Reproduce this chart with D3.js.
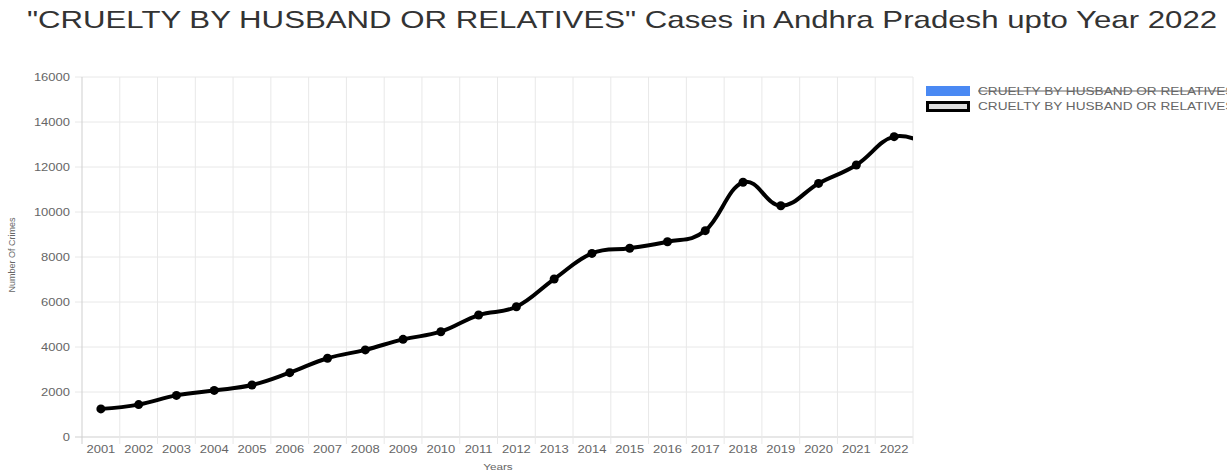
<!DOCTYPE html>
<html>
<head>
<meta charset="utf-8">
<script src="https://cdn.jsdelivr.net/npm/d3@7"></script>
<style>
  body { margin: 0; background: #fff; }
  svg { display: block; font-family: "Liberation Sans", Arial, sans-serif; }
</style>
</head>
<body>
<div id="chart"></div>
<script>
// Data
var years = ["2001", "2002", "2003", "2004", "2005", "2006", "2007", "2008", "2009", "2010", "2011",
             "2012", "2013", "2014", "2015", "2016", "2017", "2018", "2019", "2020", "2021", "2022"];
// last value has no label; it is cut off at the edge of the plot
var cases = [1250, 1440, 1850, 2070, 2310, 2860, 3500, 3870, 4340, 4680, 5420,
             5790, 7020, 8160, 8390, 8680, 9170, 11320, 10280, 11270, 12090, 13350, 12900];
var yTicks = [0, 2000, 4000, 6000, 8000, 10000, 12000, 14000, 16000];
var seriesName = "CRUELTY BY HUSBAND OR RELATIVES";

var width = 1227, height = 474;
var margin = {top: 77, right: 314, bottom: 37, left: 82};
var plotW = width - margin.left - margin.right;
var plotH = height - margin.top - margin.bottom;
var stretch = 1.3; // the text in the picture is drawn wide

var svg = d3.select("#chart").append("svg")
    .attr("width", width)
    .attr("height", height);

// put a text at (x, y), stretched sideways
AddText = function(parent, x, y, str, size, anchor) {
    return parent.append("g")
        .attr("transform", "translate(" + x + "," + y + ") scale(" + stretch + ",1)")
        .append("text")
        .attr("text-anchor", anchor)
        .attr("font-size", size)
        .attr("fill", "#666")
        .text(str);
}

// title
AddText(svg, 622, 28, '"CRUELTY BY HUSBAND OR RELATIVES" Cases in Andhra Pradesh upto Year 2022', 24, "middle")
    .attr("fill", "#333");

var g = svg.append("g").attr("transform", "translate(" + margin.left + "," + margin.top + ")");

// band-style x scale (points sit in the middle of each band)
var x = d3.scaleBand().domain(years).range([0, plotW]);
var step = x.step();
var xPos = function(i) { return i * step + step / 2; };

var y = d3.scaleLinear().domain([0, 16000]).range([plotH, 0]);

// grid lines
g.append("g").selectAll("line.hgrid")
    .data(yTicks)
    .enter().append("line")
    .attr("x1", -7).attr("x2", plotW)
    .attr("y1", function(d) { return y(d); })
    .attr("y2", function(d) { return y(d); })
    .attr("stroke", function(d) { return d === 0 ? "#cfcfcf" : "#e8e8e8"; })
    .attr("stroke-width", 1);

var vlines = d3.range(years.length + 1);
g.append("g").selectAll("line.vgrid")
    .data(vlines)
    .enter().append("line")
    .attr("x1", function(d) { return d * step; })
    .attr("x2", function(d) { return d * step; })
    .attr("y1", 0).attr("y2", plotH + 7)
    .attr("stroke", function(d) { return d === 0 ? "#cfcfcf" : "#e8e8e8"; })
    .attr("stroke-width", 1);

// y axis labels
yTicks.forEach(function(d) {
    AddText(g, -12, y(d), d, 10, "end").attr("dy", "0.35em");
});

// x axis labels
years.forEach(function(d) {
    AddText(g, x(d) + step / 2, plotH + 16, d, 10, "middle");
});

// axis titles
svg.append("text")
    .attr("transform", "translate(15," + (margin.top + plotH / 2 - 2) + ") rotate(-90)")
    .attr("text-anchor", "middle")
    .attr("font-size", 9)
    .attr("fill", "#666")
    .text("Number Of Crimes");

AddText(svg, 498, 470, "Years", 9, "middle");

// clip the line to the plot area
svg.append("clipPath").attr("id", "plotClip")
    .append("rect").attr("width", plotW).attr("height", plotH);

// cardinal spline, roughly like a tension 0.4 smoothed line
var line = d3.line()
    .x(function(d, i) { return xPos(i); })
    .y(function(d) { return y(d); })
    .curve(d3.curveCardinal.tension(-0.2));

g.append("path")
    .datum(cases)
    .attr("clip-path", "url(#plotClip)")
    .attr("d", line)
    .attr("fill", "none")
    .attr("stroke", "#000")
    .attr("stroke-width", 4);

g.append("g").selectAll("circle")
    .data(cases.slice(0, years.length))
    .enter().append("circle")
    .attr("cx", function(d, i) { return xPos(i); })
    .attr("cy", function(d) { return y(d); })
    .attr("r", 4.5)
    .attr("fill", "#000");

// legend: first entry is a hidden dataset (struck through)
var legend = svg.append("g").attr("transform", "translate(926,86)");

legend.append("rect")
    .attr("x", 0).attr("y", 0).attr("width", 44).attr("height", 10)
    .attr("fill", "#4a89f3");
var hiddenLabel = AddText(legend, 52, 5, seriesName, 10.5, "start").attr("dy", "0.35em");
legend.append("line")
    .attr("x1", 52).attr("x2", 52 + hiddenLabel.node().getComputedTextLength() * stretch)
    .attr("y1", 5).attr("y2", 5)
    .attr("stroke", "#666").attr("stroke-width", 1.2);

legend.append("rect")
    .attr("x", 1.5).attr("y", 16.5).attr("width", 41).attr("height", 8)
    .attr("fill", "#dcdcdc")
    .attr("stroke", "#000").attr("stroke-width", 3);
AddText(legend, 52, 20.5, seriesName, 10.5, "start").attr("dy", "0.35em");
</script>
</body>
</html>
